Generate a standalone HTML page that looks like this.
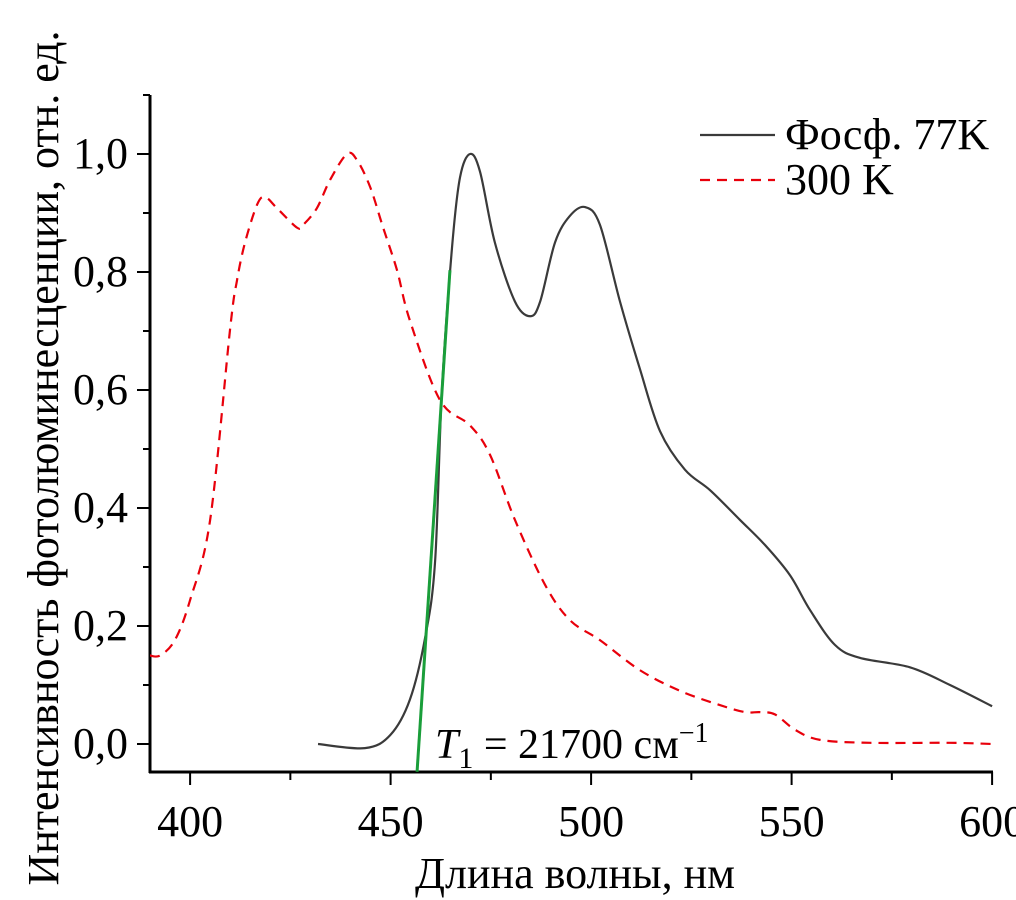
<!DOCTYPE html>
<html><head><meta charset="utf-8"><style>
body{margin:0;background:#fff;}
svg{display:block;font-family:"Liberation Serif",serif;}
</style></head><body>
<svg id="c" width="1016" height="900"></svg>
<script>
const blackW=[431.9,443.6,449.9,454.8,458.6,461.1,462.8,465.3,467.3,469.8,472.3,476,481,484.8,487.3,491,494.7,498.5,502.2,507.2,512.2,517.2,523.4,529.7,537.1,543.4,549.6,554.6,560.8,567,579.5,589.5,600];
const blackV=[0,-0.007,0.015,0.075,0.18,0.31,0.6,0.84,0.96,1.0,0.97,0.85,0.75,0.725,0.75,0.85,0.895,0.91,0.88,0.75,0.635,0.53,0.465,0.43,0.38,0.337,0.286,0.227,0.168,0.146,0.13,0.1,0.064];
const redW=[390,392.5,396.2,400,405,410,411.7,413.7,416.7,418.7,421.7,426.7,428.2,431.6,434.9,439.1,441.6,444.9,448.1,451.6,454.8,462.3,469.8,474.8,481,488.5,494.7,502.2,512.2,522.2,532.1,538.4,542.1,545.9,550.9,557.1,569.6,589.5,600];
const redV=[0.15,0.15,0.176,0.244,0.38,0.705,0.786,0.85,0.914,0.927,0.908,0.875,0.88,0.908,0.956,1.0,0.99,0.944,0.876,0.803,0.718,0.583,0.54,0.49,0.38,0.27,0.21,0.176,0.125,0.09,0.066,0.054,0.054,0.05,0.024,0.007,0.002,0.002,0];
const tangentW=[456.6,464.8];
const tangentV=[-0.047,0.803];
const xTicks=[400,450,500,550,600];
const yTicks=[0,0.2,0.4,0.6,0.8,1.0];
const yTickLabels=["0,0","0,2","0,4","0,6","0,8","1,0"];
const X=w=>150+(w-390)*4.01, Y=v=>744-v*590;
const s=document.getElementById('c'),NS='http://www.w3.org/2000/svg';
function mk(t,a,p){const e=document.createElementNS(NS,t);for(const k in a)e.setAttribute(k,a[k]);(p||s).appendChild(e);return e;}
function smooth(W,V){const P=W.map((w,i)=>[X(w),Y(V[i])]);let d='M'+P[0][0]+','+P[0][1];
for(let i=0;i<P.length-1;i++){const p0=P[i-1]||P[i],p1=P[i],p2=P[i+1],p3=P[i+2]||p2;
d+=` C${p1[0]+(p2[0]-p0[0])/6},${p1[1]+(p2[1]-p0[1])/6} ${p2[0]-(p3[0]-p1[0])/6},${p2[1]-(p3[1]-p1[1])/6} ${p2[0]},${p2[1]}`;}return d;}
let e=mk('line',{x1:150,y1:95,x2:150,y2:773,stroke:'#000','stroke-width':3});

e=mk('line',{x1:149,y1:772,x2:993,y2:772,stroke:'#000','stroke-width':3});

for(let w=400;w<=600;w+=25){const maj=w%50==0;e=mk('line',{x1:X(w),y1:772,x2:X(w),y2:maj?785:780,stroke:'#000','stroke-width':2});
}
xTicks.forEach(w=>{e=mk('text',{x:X(w),y:836,'font-size':44,'text-anchor':'middle'});e.textContent=w;
});
for(let i=0;i<=11;i++){const v=i/10,maj=i%2==0;e=mk('line',{x1:maj?137:143,y1:Y(v),x2:150,y2:Y(v),stroke:'#000','stroke-width':2});
}
yTicks.forEach((v,i)=>{e=mk('text',{x:128,y:Y(v)+14,'font-size':44,'text-anchor':'end'});e.textContent=yTickLabels[i];
});
e=mk('text',{x:575,y:888,'font-size':44,'text-anchor':'middle'});e.textContent='Длина волны, нм';

e=mk('text',{x:0,y:0,'font-size':44,'text-anchor':'middle',transform:'translate(58,458) rotate(-90)'});e.textContent='Интенсивность фотолюминесценции, отн. ед.';

e=mk('path',{d:smooth(redW,redV),fill:'none',stroke:'#e8000b','stroke-width':2.2,'stroke-dasharray':'10,7'});

e=mk('path',{d:smooth(blackW,blackV),fill:'none',stroke:'#3a3a3a','stroke-width':2.2});

e=mk('line',{x1:X(tangentW[0]),y1:Y(tangentV[0]),x2:X(tangentW[1]),y2:Y(tangentV[1]),stroke:'#1a9e3a','stroke-width':3});

e=mk('text',{x:435,y:758,'font-size':42});e.innerHTML='<tspan font-style="italic">T</tspan><tspan font-size="30" dy="10">1</tspan><tspan dy="-10"> = 21700 см</tspan><tspan font-size="28" dy="-16">−1</tspan>';

e=mk('line',{x1:700,y1:135,x2:775,y2:135,stroke:'#3a3a3a','stroke-width':2.2});

e=mk('text',{x:785,y:149,'font-size':44});e.textContent='Фосф. 77K';

e=mk('line',{x1:700,y1:180,x2:775,y2:180,stroke:'#e8000b','stroke-width':2.2,'stroke-dasharray':'10,7'});

e=mk('text',{x:785,y:194,'font-size':44});e.textContent='300 K';

</script>
</body></html>
